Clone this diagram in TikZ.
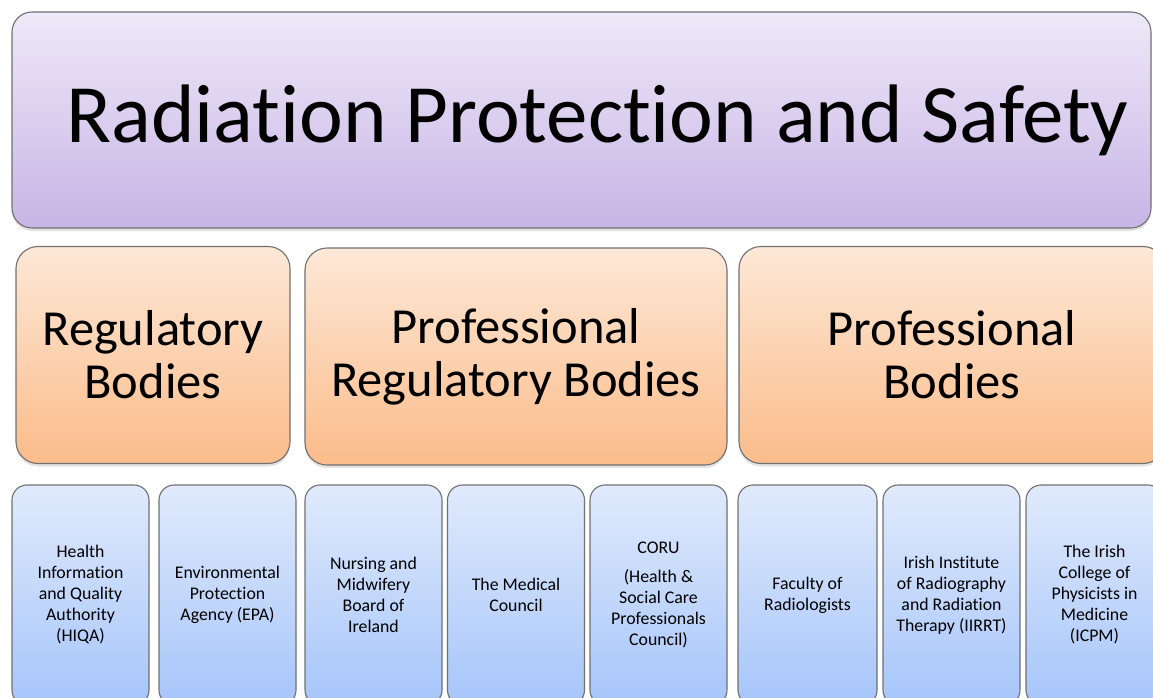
\documentclass[tikz,border=0pt]{standalone}
\usepackage{fontspec}
\setmainfont{Carlito}[RawFeature={-liga;-clig;-dlig;-calt}]
\usetikzlibrary{shadows}
\definecolor{purpTop}{RGB}{238,233,248}
\definecolor{purpBot}{RGB}{200,180,230}
\definecolor{oraTop}{RGB}{253,232,215}
\definecolor{oraBot}{RGB}{251,188,138}
\definecolor{bluTop}{RGB}{224,234,252}
\definecolor{bluBot}{RGB}{166,197,250}
\definecolor{edge}{RGB}{112,112,112}
\tikzset{
  boxbase/.style={draw=edge, line width=1.1pt, align=center, inner sep=0pt,
    drop shadow={opacity=0.22, shadow xshift=0pt, shadow yshift=-3pt}},
  titlebox/.style={boxbase, rounded corners=20pt, top color=purpTop, bottom color=purpBot,
    minimum width=1139pt, minimum height=216pt, font=\fontsize{83}{90}\selectfont},
  midbox/.style={boxbase, rounded corners=22pt, top color=oraTop, bottom color=oraBot,
    minimum height=217pt, font=\fontsize{50.5}{53}\selectfont},
  lowbox/.style={boxbase, rounded corners=15pt, top color=bluTop, bottom color=bluBot,
    minimum height=220pt, minimum width=137pt, font=\fontsize{17.8}{21}\selectfont}
}
\begin{document}
\begin{tikzpicture}[x=1pt,y=-1pt]
\useasboundingbox (0,0) rectangle (1153,697);
\clip (0,0) rectangle (1153,697);
\node[titlebox] (title) at (581.5,120) {\hspace*{32pt}Radiation Protection and Safety};
\node[midbox, minimum width=274pt] (reg) at (153,355) {Regulatory\\Bodies};
\node[midbox, minimum width=422pt] (preg) at (516,356.5) {Professional\\Regulatory Bodies};
\node[midbox, minimum width=426pt] (prof) at (952,355) {Professional\\Bodies};
\node[lowbox] (hiqa) at (80.5,595) {Health\\Information\\and Quality\\Authority\\(HIQA)};
\node[lowbox] (epa) at (227.5,595) {Environmental\\Protection\\Agency (EPA)};
\node[lowbox] (nmbi) at (373.5,595) {Nursing and\\Midwifery\\Board of\\Ireland};
\node[lowbox] (med) at (516,595) {The Medical\\Council};
\node[lowbox] (coru) at (658.5,595) {CORU\\[8pt](Health \&\\Social Care\\Professionals\\Council)};
\node[lowbox, minimum width=139pt] (fac) at (807.5,595) {Faculty of\\Radiologists};
\node[lowbox] (iirrt) at (951.5,595) {Irish Institute\\of Radiography\\and Radiation\\Therapy (IIRRT)};
\node[lowbox] (icpm) at (1094.5,595) {The Irish\\College of\\Physicists in\\Medicine\\(ICPM)};
\end{tikzpicture}
\end{document}
